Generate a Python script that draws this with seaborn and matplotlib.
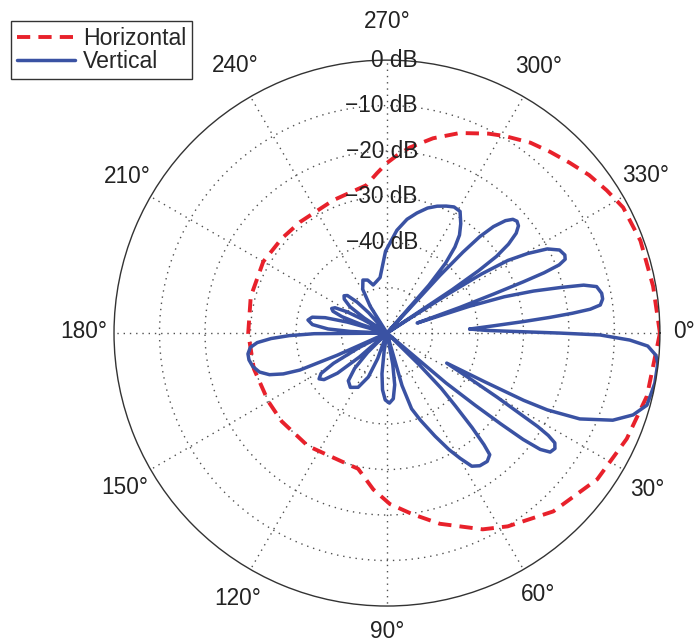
import numpy as np
import pandas as pd
import matplotlib
matplotlib.use("Agg")
import matplotlib.pyplot as plt
import seaborn as sns

# ---- data: radiation patterns, angle in degrees, level in dB ----
hor_deg = [0, 13.6, 23.8, 34.8, 47, 58, 64, 74.5, 82, 89, 95, 102, 110, 125,
           140, 150, 165, 180, 195, 210, 222, 232, 248, 262, 266.4, 270,
           273.2, 277, 283.3, 290, 297, 301, 307, 312, 317, 322, 327, 332,
           340, 350, 360]
hor_db = [0, -1.2, -2.4, -3.7, -6.4, -9.9, -12.0, -16.5, -19.8, -22.4, -25.5,
          -29.5, -30.1, -29.7, -29.8, -29.9, -29.7, -29.5, -29.0, -28.6, -28.9,
          -29.0, -28.5, -27.2, -24.8, -22.6, -20.9, -18.9, -16.0, -13.2, -10.8,
          -9.5, -7.6, -6.4, -5.1, -3.6, -2.4, -1.2, -0.7, -0.6, 0]

ver_deg = [
    # main lobe
    -2.8, -1.5, 0.0, 0.5, 1.65, 2.85, 4.7, 6.3, 10.6, 15.5, 18.4, 21.1, 24.0,
    25.6, 26.2, 26.5, 26.7,
    # side lobes, clockwise
    28.9, 30.2, 31.3, 31.8, 32.4, 33.2, 34.5, 36.1, 37.2, 38.0, 38.6, 39.3,
    40.2, 41.5,
    43.5, 44.5, 45.5, 46.8, 48.0, 49.0, 49.8, 52.0, 55.0, 57.5, 59.7, 62.0,
    65.0, 69.0, 72.0, 74.0, 75.5,
    78.0, 79.5, 81.5, 84.5, 88.0, 91.5, 94.5, 97.0, 99.0, 100.0,
    108.0, 110.0, 113.0, 118.0, 124.0, 129.0, 132.5, 135.0, 136.5,
    137.5, 139.0, 141.0, 143.5, 146.0, 148.5, 150.5, 152.5, 154.0,
    # back lobe
    155.0, 156.0, 157.0, 158.5, 160.5, 163.0, 166.0, 169.0, 171.5, 174.0,
    175.8, 177.3, 178.5, 179.5, 180.5,
    181.5, 182.5, 184.0, 186.5, 189.4, 192.0, 194.0, 195.5, 196.5,
    197.5, 198.5, 200.0, 202.0, 204.0, 206.0, 208.0, 209.5, 210.5,
    212.0, 213.5, 215.5, 218.5, 221.0, 223.5, 226.0, 228.0, 229.5,
    235.0, 238.0, 241.0, 245.6, 250.0, 254.0,
    258.0, 262.9, 269.0, 275.5, 280.0, 284.0, 288.0, 291.6, 295.0, 298.0,
    301.0, 304.0, 306.5, 308.3, 310.0, 311.2, 312.2,
    312.6, 313.2, 313.9, 315.0, 316.5, 317.9, 319.3, 320.8, 322.3, 323.8,
    325.0, 325.75, 326.35, 326.8,
    327.4, 328.0, 329.0, 330.5, 332.3, 334.3, 336.3, 337.5, 338.4, 339.0,
    339.4, 339.9, 340.6, 341.6,
    342.0, 342.8, 344.0, 345.3, 346.3, 347.5, 349.5, 351.0, 352.5, 353.3,
    353.9, 354.5, 355.2, 356.1, 357.2]
ver_db = [
    -41.8, -38.0, -22.0, -13.2, -6.6, -2.6, -0.7, -0.1, -0.1, -0.7, -3.0,
    -6.8, -13.6, -20.9, -26.5, -35.9, -45.3,
    -38.7, -32.0, -25.3, -21.0, -18.0, -15.9, -15.2, -15.6, -17.7, -22.0,
    -28.0, -35.0, -43.0, -60.0,
    -60.0, -50.0, -43.0, -38.0, -32.0, -27.5, -25.0, -24.2, -24.4, -25.3,
    -28.1, -31.0, -35.0, -39.5, -42.5, -48.0, -60.0,
    -60.0, -53.0, -48.5, -45.5, -44.6, -45.3, -47.5, -51.0, -56.0, -60.0,
    -60.0, -54.0, -49.5, -46.5, -45.6, -46.5, -49.5, -54.0, -60.0,
    -60.0, -52.0, -46.0, -42.8, -42.0, -43.0, -46.5, -53.0, -60.0,
    -60.0, -48.0, -39.2, -35.5, -32.6, -30.7, -29.6, -29.1, -29.1, -29.8,
    -31.4, -34.5, -38.5, -44.0, -60.0,
    -60.0, -52.0, -47.0, -43.5, -42.4, -43.2, -46.0, -51.0, -60.0,
    -60.0, -54.0, -49.5, -47.2, -46.7, -47.3, -50.0, -54.0, -60.0,
    -60.0, -54.0, -50.0, -48.0, -47.5, -48.0, -50.5, -54.0, -60.0,
    -60.0, -53.0, -49.0, -47.2, -47.6, -49.0,
    -48.5, -47.7, -42.0, -37.3, -34.6, -32.8, -31.1, -30.0, -29.2, -28.6,
    -28.8, -31.0, -33.2, -35.9, -40.0, -46.0, -60.0,
    -42.8, -35.6, -30.6, -26.9, -24.1, -22.7, -22.3, -22.7, -24.1, -26.9,
    -30.6, -35.6, -42.8, -60.0,
    -44.0, -35.5, -29.0, -24.5, -20.2, -17.9, -17.3, -17.6, -19.3, -23.0,
    -28.0, -35.0, -43.0, -53.0,
    -41.0, -33.0, -26.5, -20.5, -15.5, -12.8, -12.0, -12.0, -12.7, -15.0,
    -19.0, -24.0, -30.0, -36.5, -41.8]

ring_db = [-50, -40, -30, -20, -10]
ring_label_db = [0, -10, -20, -30, -40]
spoke_deg = list(range(0, 360, 30))
DB_MIN = -60

RED = "#E8212B"
BLUE = "#3A52A3"
GRID = "#505050"
FS = 16.3

sns.set_style("white")
plt.rcParams["font.family"] = ["Liberation Sans", "DejaVu Sans"]

fig = plt.figure(figsize=(6.98, 6.43), dpi=100)
ax = fig.add_axes([0.1633, 0.0575, 0.7822, 0.849], projection="polar")
ax.set_theta_zero_location("E")
ax.set_theta_direction(-1)

hor = pd.DataFrame({"theta": np.deg2rad(hor_deg), "db": hor_db})
ver = pd.DataFrame({"theta": np.deg2rad(ver_deg), "db": ver_db})

sns.lineplot(data=hor, x="theta", y="db", sort=False, estimator=None, ax=ax,
             color=RED, linewidth=2.8, label="Horizontal")
red_line = ax.lines[-1]
red_line.set_dashes((3.4, 2.1))
red_line.set_dash_capstyle("butt")

sns.lineplot(data=ver, x="theta", y="db", sort=False, estimator=None, ax=ax,
             color=BLUE, linewidth=2.5, label="Vertical")
blue_line = ax.lines[-1]
blue_line.set_solid_joinstyle("round")
blue_line.set_solid_capstyle("round")

ax.set_ylim(DB_MIN, 0)
ax.set_xlabel("")
ax.set_ylabel("")
ax.set_xticks(np.deg2rad(spoke_deg))
ax.set_xticklabels([])
ax.set_yticks(ring_db)
ax.set_yticklabels([])
ax.grid(True, color=GRID, linestyle=(0, (1, 3.5)), linewidth=1.0)
ax.spines["polar"].set_color("#333333")
ax.spines["polar"].set_linewidth(1.0)

# angle labels just outside the rim (axes box is 546 px across)
BOX = 546.0
LABEL_R = 303.0
nudge = {0: (-6, -1.5), 30: (-2, 4.5), 60: (0, -1), 90: (0, -5),
         120: (2, 3), 150: (0, 2.5), 180: (0, -2), 210: (3, -5),
         240: (0, -5), 270: (0, -9), 300: (0, -4), 330: (-4, -6)}
for a in spoke_deg:
    t = np.deg2rad(a)
    nx, ny = nudge[a]
    x = 0.5 + (LABEL_R * np.cos(t) + nx) / BOX
    y = 0.5 - (LABEL_R * np.sin(t) + ny) / BOX
    ax.text(x, y, f"{a}°", transform=ax.transAxes, ha="center", va="center",
            fontsize=FS, color="#222222", clip_on=False)

# ring labels along the 270° spoke
for d in ring_label_db:
    y = 0.5 + 0.5 * (d - DB_MIN) / (0 - DB_MIN)
    txt = "0 dB" if d == 0 else f"\u2212{abs(d)} dB"
    ax.text(0.5 + 31 / BOX, y, txt, transform=ax.transAxes, ha="right",
            va="center", fontsize=FS, color="#222222", clip_on=False)

leg = ax.legend(loc="upper left", bbox_to_anchor=(11 / 698, 1 - 21 / 643),
                bbox_transform=fig.transFigure, fontsize=16.6, frameon=True,
                fancybox=False, edgecolor="#333333", framealpha=1,
                borderaxespad=0, borderpad=0.26, handlelength=2.5,
                handletextpad=0.35, labelspacing=0.0)
leg.get_frame().set_linewidth(1.0)

fig.savefig("out.png", dpi=100)
